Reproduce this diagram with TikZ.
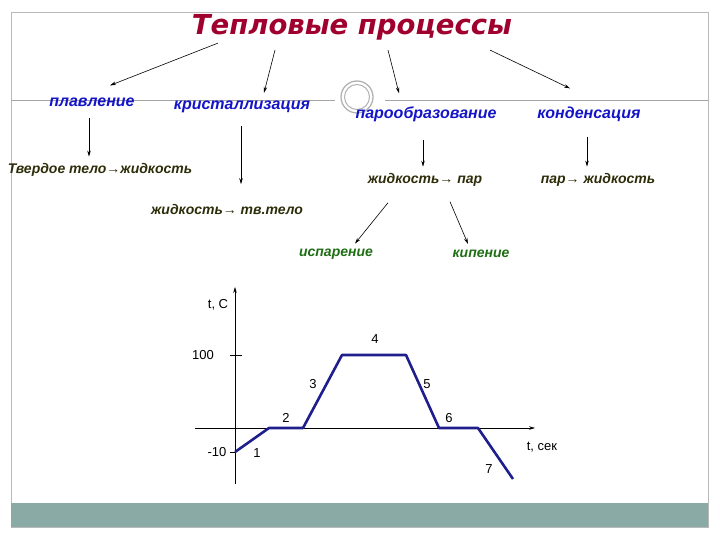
\documentclass[tikz,border=0pt]{standalone}
\usepackage{fontspec}
\setmainfont{Liberation Sans}
\newfontfamily\titlefont{DejaVu Sans}
\usetikzlibrary{arrows.meta}
\definecolor{titlered}{RGB}{160,0,45}
\definecolor{procblue}{RGB}{20,20,200}
\definecolor{statedark}{RGB}{45,45,10}
\definecolor{kindgreen}{RGB}{30,110,20}
\definecolor{bandgray}{RGB}{138,170,166}
\definecolor{curveblue}{RGB}{30,30,140}
\tikzset{
  proc/.style={font=\fontsize{16}{18}\selectfont\bfseries\itshape, text=procblue, inner sep=0pt},
  state/.style={font=\fontsize{14}{16}\selectfont\bfseries\itshape, text=statedark, inner sep=0pt},
  kind/.style={font=\fontsize{14}{16}\selectfont\bfseries\itshape, text=kindgreen, inner sep=0pt},
  num/.style={font=\fontsize{13}{15}\selectfont, inner sep=0pt},
  arr/.style={-{Stealth[length=6pt,width=3.5pt]}, line width=0.6pt}
}
\begin{document}
\begin{tikzpicture}[x=1pt,y=-1pt]
  \useasboundingbox (0,0) rectangle (720,540);
  % slide frame
  \draw[gray!55] (11,12) rectangle (708,527);
  \fill[bandgray] (11,503) rectangle (708,527);
  \draw[gray!70] (11,100) -- (335,100);
  \draw[gray!70] (385,100) -- (708,100);
  \draw[gray!60, line width=1.3pt] (357,97) circle (16);
  \draw[gray!60, line width=1pt] (357,97) circle (12.5);
  % scheme
  \node[font=\titlefont\fontsize{27.5}{30}\selectfont\bfseries\itshape, text=titlered, inner sep=0pt]
    (title) at (352,27) {Тепловые процессы};
  \node[proc] (melt) at (92,102) {плавление};
  \node[proc] (cryst) at (242,107) {кристаллизация};
  \node[proc] (vapor) at (426,114) {парообразование};
  \node[proc] (cond) at (589,114) {конденсация};
  \node[state] (solliq) at (100,170) {Твердое тело→жидкость};
  \node[state] (liqsol) at (227,209) {жидкость→ тв.тело};
  \node[state] (liqvap) at (425,180) {жидкость→ пар};
  \node[state] (vapliq) at (598,180) {пар→ жидкость};
  \node[kind] (evap) at (336,254) {испарение};
  \node[kind] (boil) at (481,254) {кипение};
  \draw[arr] ([xshift=-134pt,yshift=-3pt]title.south) -- ([xshift=18pt,yshift=12pt]melt.north);
  \draw[arr] ([xshift=-77pt,yshift=-10pt]title.south) -- ([xshift=22pt,yshift=8pt]cryst.north);
  \draw[arr] ([xshift=36pt,yshift=-10pt]title.south) -- ([xshift=-27pt,yshift=13pt]vapor.north);
  \draw[arr] ([xshift=138pt,yshift=-10pt]title.south) -- ([xshift=-19pt,yshift=18pt]cond.north);
  \draw[arr] ([xshift=-3pt,yshift=-11pt]melt.south) -- ([xshift=-3pt,yshift=-50pt]melt.south);
  \draw[arr] ([xshift=-1pt,yshift=-13pt]cryst.south) -- ([xshift=-1pt,yshift=-71pt]cryst.south);
  \draw[arr] ([xshift=-3pt,yshift=-18pt]vapor.south) -- ([xshift=-3pt,yshift=-45pt]vapor.south);
  \draw[arr] ([xshift=-2pt,yshift=-15pt]cond.south) -- ([xshift=-2pt,yshift=-45pt]cond.south);
  \draw[arr] ([xshift=-37pt,yshift=-16pt]liqvap.south) -- ([xshift=19pt,yshift=5pt]evap.north);
  \draw[arr] ([xshift=25pt,yshift=-15pt]liqvap.south) -- ([xshift=-13pt,yshift=6pt]boil.north);
  % graph
  \draw[arr] (235,484) -- (235,287);
  \draw[arr] (195,428) -- (535,428);
  \draw (230,355) -- (242,355);
  \draw (230,452) -- (235,452);
  \draw[curveblue, line width=2.6pt, line join=round]
    (235,452) -- (269,428) -- (303,428) -- (342,355) -- (406,355)
    -- (439,428) -- (478,428) -- (513,479);
  \node[num] (tlab) at (218,305) {t, C};
  \node[num] (slab) at (542,447) {t, сек};
  \node[num] (hundred) at (203,355) {100};
  \node[num] (minusten) at (217,452) {-10};
  \foreach \n/\px/\py in {1/257/453, 2/286/418, 3/313/384, 4/375/339, 5/427/384, 6/449/418, 7/489/469}{
    \node[num] (seg\n) at (\px,\py) {\n};
  }
\end{tikzpicture}
\end{document}
